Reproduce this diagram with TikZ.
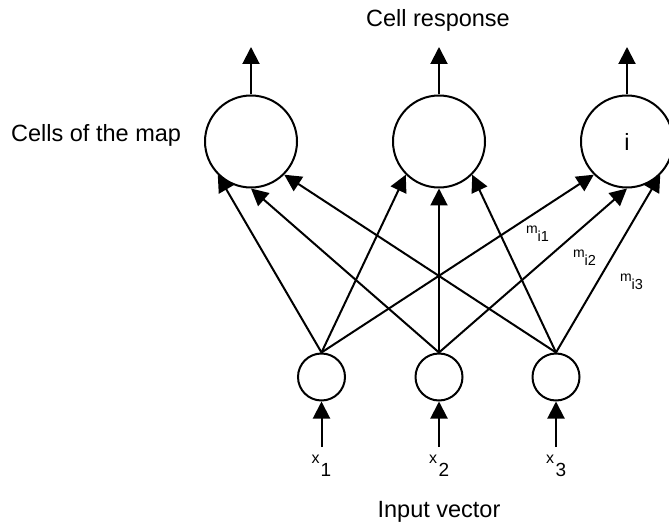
\documentclass[tikz,border=0pt]{standalone}
\usepackage{fontspec}
\setmainfont{Liberation Sans}
\usetikzlibrary{arrows.meta}
\begin{document}
\begin{tikzpicture}[x=1pt,y=-1pt,
  cell/.style={circle,draw,line width=2pt,minimum size=92pt,inner sep=0pt,font=\fontsize{23.5}{28}\selectfont},
  inp/.style={circle,draw,line width=2pt,minimum size=47pt,inner sep=0pt},
  arr/.style={line width=2pt,-{Triangle[length=17pt,width=17pt]}},
  big/.style={font=\fontsize{23.5}{28}\selectfont,inner sep=0pt},
  xlab/.style={anchor=base west,inner sep=0pt,font=\fontsize{16}{18}\selectfont},
  xsub/.style={anchor=base west,inner sep=0pt,font=\fontsize{19}{21}\selectfont},
  mlab/.style={anchor=base west,inner sep=0pt,font=\fontsize{14}{16}\selectfont},
  msub/.style={anchor=base west,inner sep=0pt,font=\fontsize{14.5}{16}\selectfont},
]
\useasboundingbox (0,0) rectangle (669,526);

% top cells
\node[cell] (c1) at (251,141.5) {};
\node[cell] (c2) at (439,141.5) {};
\node[cell] (c3) at (627,141.5) {i};

% input cells
\node[inp] (b1) at (321.5,377) {};
\node[inp] (b2) at (439,377) {};
\node[inp] (b3) at (556,377) {};

% output arrow tips
\coordinate (t1) at (251,47);
\coordinate (t2) at (439,47);
\coordinate (t3) at (627,47);
% input arrow tails
\coordinate (s1) at (321.5,447);
\coordinate (s2) at (439,447);
\coordinate (s3) at (556,447);

\draw[arr] (c1.north) -- (t1);
\draw[arr] (c2.north) -- (t2);
\draw[arr] (c3.north) -- (t3);

\draw[arr] (s1) -- (b1.south);
\draw[arr] (s2) -- (b2.south);
\draw[arr] (s3) -- (b3.south);

% connections
\foreach \j in {1,2,3}{
  \draw[arr] (b1.north) -- (c\j.225);
  \draw[arr] (b2.north) -- (c\j.270);
  \draw[arr] (b3.north) -- (c\j.315);
}

% labels
\node[big,anchor=base] (lresp) at (438,27) {Cell response};
\node[big,anchor=base west] (lmap) at (11,142) {Cells of the map};
\node[big,anchor=base] (linp) at (439,517) {Input vector};

\node[xlab] (x1) at (311.5,463) {x};
\node[xsub] (x1s) at (320.5,476) {1};
\node[xlab] (x2) at (429,463) {x};
\node[xsub] (x2s) at (438.5,476) {2};
\node[xlab] (x3) at (546,463) {x};
\node[xsub] (x3s) at (555.5,476) {3};

\node[mlab] (m1) at (526,234) {m};
\node[msub] (m1s) at (537.5,242) {i1};
\node[mlab] (m2) at (573,258) {m};
\node[msub] (m2s) at (584.5,265.5) {i2};
\node[mlab] (m3) at (620,282) {m};
\node[msub] (m3s) at (631.5,289.5) {i3};
\end{tikzpicture}
\end{document}
